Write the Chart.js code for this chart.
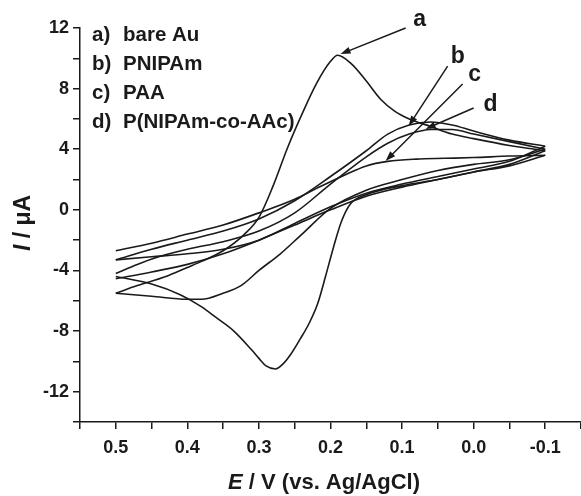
<!DOCTYPE html>
<html>
<head>
<meta charset="utf-8">
<script src="https://cdn.jsdelivr.net/npm/chart.js@4.4.0/dist/chart.umd.min.js"></script>
<style>
  html, body { margin: 0; padding: 0; background: #fff; }
  #wrap { width: 581px; height: 496px; position: relative; }
</style>
</head>
<body>
<div id="wrap"><canvas id="cv"></canvas></div>
<script>
// --- CV data (E in V vs. Ag/AgCl, I in uA) ---
// fwd = sweep 0.5 -> -0.1 (upper branch), rev = -0.1 -> 0.5 (lower branch)
const aFwdE = [0.5, 0.47, 0.43, 0.4, 0.38, 0.35, 0.32, 0.3, 0.28, 0.26, 0.24, 0.22, 0.2, 0.19, 0.17, 0.15, 0.13, 0.11, 0.09, 0.06, 0.03, 0, -0.05, -0.1];
const aFwdI = [-5.5, -5.0, -4.4, -3.8, -3.4, -2.7, -1.6, -0.5, 1.6, 4.1, 6.3, 8.3, 9.8, 10.2, 9.6, 8.5, 7.3, 6.5, 6.0, 5.5, 5.0, 4.7, 4.25, 3.9];
const aRevE = [-0.1, -0.05, 0, 0.05, 0.1, 0.15, 0.172, 0.185, 0.196, 0.207, 0.218, 0.23, 0.242, 0.255, 0.265, 0.277, 0.29, 0.3, 0.311, 0.335, 0.36, 0.38, 0.41, 0.45, 0.5];
const aRevI = [3.9, 3.0, 2.5, 2.0, 1.6, 1.0, 0.4, -0.8, -2.5, -4.4, -6.2, -7.5, -8.5, -9.5, -10.1, -10.5, -10.3, -9.8, -9.2, -8.0, -7.1, -6.4, -5.6, -4.9, -4.4];

const bFwdE = [0.5, 0.45, 0.4, 0.35, 0.3, 0.25, 0.2, 0.15, 0.12, 0.09, 0.06, 0.03, 0, -0.05, -0.1];
const bFwdI = [-3.3, -2.6, -2.0, -1.4, -0.6, 0.6, 2.2, 3.9, 5.0, 5.6, 5.8, 5.6, 5.2, 4.6, 4.2];
const bRevE = [-0.1, -0.05, 0, 0.05, 0.1, 0.15, 0.2, 0.25, 0.3, 0.35, 0.4, 0.45, 0.5];
const bRevI = [4.2, 3.2, 2.7, 2.2, 1.7, 1.1, 0.2, -0.9, -2.0, -2.6, -2.9, -3.1, -3.3];

const cFwdE = [0.5, 0.45, 0.4, 0.35, 0.3, 0.25, 0.22, 0.18, 0.15, 0.12, 0.08, 0.04, 0, -0.05, -0.1];
const cFwdI = [-2.7, -2.2, -1.6, -1.0, -0.2, 0.7, 1.4, 2.3, 2.9, 3.2, 3.35, 3.4, 3.45, 3.55, 3.6];
const cRevE = [-0.1, -0.05, 0, 0.05, 0.1, 0.15, 0.2, 0.25, 0.3, 0.35, 0.4, 0.45, 0.5];
const cRevI = [3.6, 2.9, 2.5, 2.0, 1.5, 0.9, 0.0, -1.0, -2.0, -2.9, -3.6, -4.1, -4.55];

const dFwdE = [0.5, 0.47, 0.44, 0.4, 0.35, 0.3, 0.25, 0.2, 0.15, 0.12, 0.09, 0.06, 0.03, 0, -0.05, -0.1];
const dFwdI = [-4.2, -3.6, -3.1, -2.6, -2.1, -1.4, -0.2, 1.7, 3.5, 4.4, 5.0, 5.3, 5.3, 5.0, 4.5, 4.0];
const dRevE = [-0.1, -0.05, 0, 0.05, 0.1, 0.15, 0.2, 0.242, 0.27, 0.3, 0.325, 0.35, 0.38, 0.4, 0.45, 0.5];
const dRevI = [4.0, 3.3, 3.0, 2.6, 2.0, 1.3, 0.1, -1.7, -2.9, -4.0, -5.0, -5.5, -5.9, -5.9, -5.7, -5.5];

const curveKeys = ["a", "b", "c", "d"];
const curveNames = ["bare Au", "PNIPAm", "PAA", "P(NIPAm-co-AAc)"];

const xTickLabels = [0.5, 0.4, 0.3, 0.2, 0.1, 0.0, -0.1];
const yTickLabels = [-12, -8, -4, 0, 4, 8, 12];

// callouts (letter + arrow), in data units
const callouts = [
  { key: "a", text: [0.0754, 12.13], from: [0.095, 12.0], to: [0.186, 10.28] },
  { key: "b", text: [0.0223, 9.69], from: [0.0363, 9.49], to: [0.0908, 5.54] },
  { key: "c", text: [-0.0014, 8.5], from: [0.0154, 8.31], to: [0.123, 3.23] },
  { key: "d", text: [-0.0237, 6.53], from: [0.0, 6.72], to: [0.067, 5.34] }
];

const INK = "#1a1a1a";
const FONT = '"Liberation Sans", Arial, sans-serif';

function toPoints(E, I) {
  return E.map((e, i) => ({ x: e, y: I[i] }));
}

const branches = [
  [aFwdE, aFwdI], [aRevE, aRevI],
  [bFwdE, bFwdI], [bRevE, bRevI],
  [cFwdE, cFwdI], [cRevE, cRevI],
  [dFwdE, dFwdI], [dRevE, dRevI]
];

// --- text + arrows drawn on top ---
const overlay = {
  id: "overlay",
  afterDraw(chart) {
    const { ctx, scales: { x, y } } = chart;
    ctx.save();
    ctx.fillStyle = INK;
    ctx.strokeStyle = INK;

    // legend block, top left
    ctx.font = "bold 20.5px " + FONT;
    ctx.textBaseline = "alphabetic";
    ctx.textAlign = "left";
    curveKeys.forEach((k, i) => {
      const yy = 41 + i * 29;
      ctx.fillText(k + ")", 92, yy);
      ctx.fillText(curveNames[i], 123, yy);
    });

    // arrows pointing at each curve
    callouts.forEach(c => {
      const x0 = x.getPixelForValue(c.from[0]), y0 = y.getPixelForValue(c.from[1]);
      const x1 = x.getPixelForValue(c.to[0]), y1 = y.getPixelForValue(c.to[1]);
      const ang = Math.atan2(y1 - y0, x1 - x0);
      ctx.lineWidth = 1.5;
      ctx.beginPath();
      ctx.moveTo(x0, y0);
      ctx.lineTo(x1 - 6 * Math.cos(ang), y1 - 6 * Math.sin(ang));
      ctx.stroke();
      ctx.beginPath();
      ctx.moveTo(x1, y1);
      ctx.lineTo(x1 - 10 * Math.cos(ang) + 3.5 * Math.sin(ang), y1 - 10 * Math.sin(ang) - 3.5 * Math.cos(ang));
      ctx.lineTo(x1 - 10 * Math.cos(ang) - 3.5 * Math.sin(ang), y1 - 10 * Math.sin(ang) + 3.5 * Math.cos(ang));
      ctx.closePath();
      ctx.fill();

      ctx.font = "bold 23px " + FONT;
      ctx.textAlign = "center";
      ctx.textBaseline = "alphabetic";
      ctx.fillText(c.key, x.getPixelForValue(c.text[0]), y.getPixelForValue(c.text[1]));
    });

    // axis titles (italic symbol + plain unit)
    function mixed(sym, rest, cx, base, size) {
      const italic = "italic bold " + size + "px " + FONT, plain = "bold " + size + "px " + FONT;
      ctx.font = italic; const w1 = ctx.measureText(sym).width;
      ctx.font = plain; const w2 = ctx.measureText(rest).width;
      const start = cx - (w1 + w2) / 2;
      ctx.textAlign = "left";
      ctx.textBaseline = "alphabetic";
      ctx.font = italic; ctx.fillText(sym, start, base);
      ctx.font = plain; ctx.fillText(rest, start + w1, base);
    }
    mixed("E", " / V (vs. Ag/AgCl)", 324, 489, 22);
    ctx.save();
    ctx.translate(30, 223);
    ctx.rotate(-Math.PI / 2);
    mixed("I", " / \u03BCA", 0, 0, 23);
    ctx.restore();

    ctx.restore();
  }
};

new Chart(document.getElementById("cv"), {
  type: "scatter",
  data: {
    datasets: branches.map((s, i) => ({
      label: curveKeys[Math.floor(i / 2)],
      data: toPoints(s[0], s[1]),
      showLine: true,
      borderColor: INK,
      borderWidth: 1.6,
      pointRadius: 0,
      tension: 0.4,
      cubicInterpolationMode: "monotone",
      fill: false
    }))
  },
  options: {
    responsive: true,
    maintainAspectRatio: false,
    animation: false,
    layout: { padding: { top: 28, right: 0, left: 0, bottom: 0 } },
    plugins: {
      legend: { display: false },
      tooltip: { enabled: false }
    },
    scales: {
      x: {
        type: "linear",
        reverse: true,
        min: -0.15,
        max: 0.55,
        afterFit: s => { s.height = 74; s.paddingLeft = 0; s.paddingRight = 0; },
        border: { display: true, color: INK, width: 1.5 },
        grid: { drawOnChartArea: false, drawTicks: true, tickLength: 7, color: INK, lineWidth: 1.5 },
        ticks: {
          stepSize: 0.05,
          autoSkip: false,
          maxRotation: 0,
          padding: 8,
          color: INK,
          font: { family: FONT, size: 18, weight: "bold" },
          callback: v => {
            const r = Math.round(v * 100) / 100;
            return xTickLabels.some(t => Math.abs(t - r) < 1e-6) ? r.toFixed(1) : "";
          }
        }
      },
      y: {
        type: "linear",
        min: -14,
        max: 12,
        afterFit: s => { s.width = 80; },
        border: { display: true, color: INK, width: 1.5 },
        grid: { drawOnChartArea: false, drawTicks: true, tickLength: 7, color: INK, lineWidth: 1.5 },
        ticks: {
          stepSize: 2,
          autoSkip: false,
          padding: 4,
          color: INK,
          font: { family: FONT, size: 18, weight: "bold" },
          callback: v => yTickLabels.includes(Math.round(v)) ? String(Math.round(v)) : ""
        }
      }
    }
  },
  plugins: [overlay]
});
</script>
</body>
</html>
